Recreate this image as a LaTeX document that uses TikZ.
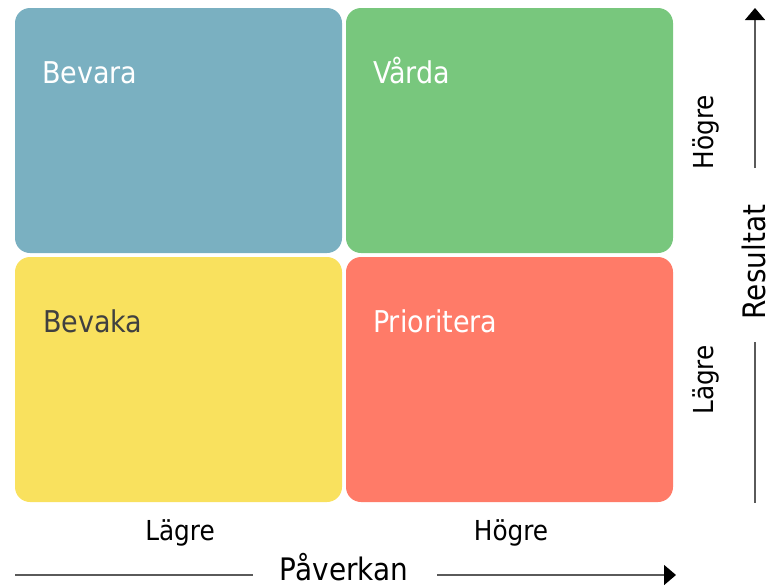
\documentclass[tikz,border=0pt]{standalone}
\usepackage{fontspec}
\setmainfont{DejaVu Sans Condensed}
\usetikzlibrary{arrows.meta}
\definecolor{qblue}{RGB}{122,176,193}
\definecolor{qgreen}{RGB}{120,199,125}
\definecolor{qyellow}{RGB}{249,225,94}
\definecolor{qred}{RGB}{255,123,104}
\definecolor{qdark}{RGB}{64,64,64}
\definecolor{axgray}{RGB}{90,90,90}
\begin{document}
\begin{tikzpicture}[x=1pt,y=-1pt,
  quad/.style={rounded corners=15pt, minimum width=327pt, minimum height=245pt, anchor=north west, inner sep=0pt, outer sep=0pt},
  qlabel/.style={anchor=base west, inner sep=0pt, font=\fontsize{30}{36}\selectfont},
  axlabel/.style={inner sep=0pt, anchor=base, font=\fontsize{27.5}{32}\selectfont},
  axtitle/.style={inner sep=0pt, anchor=base, font=\fontsize{31}{37}\selectfont},
  axline/.style={draw=axgray, line width=1.5pt},
  tipend/.style={-{Triangle[length=12pt,width=20pt,color=black]}}]
\useasboundingbox (0,0) rectangle (771,587);
% quadrants
\node[quad, fill=qblue]   (qa) at (15,8)    {};
\node[quad, fill=qgreen]  (qb) at (346,8)   {};
\node[quad, fill=qyellow] (qc) at (15,257)  {};
\node[quad, fill=qred]    (qd) at (346,257) {};
\node[qlabel, text=white] (la) at (42,83)   {Bevara};
\node[qlabel, text=white] (lb) at (373,83)  {Vårda};
\node[qlabel, text=qdark] (lc) at (43,332)  {Bevaka};
\node[qlabel, text=white] (ld) at (373,332) {Prioritera};
% horizontal axis
\node[axlabel] (xlow)  at (180,540) {Lägre};
\node[axlabel] (xhigh) at (511,540) {Högre};
\node[axtitle] (xtitle) at (344,580) {Påverkan};
\coordinate (xa) at (15,575);
\coordinate (xb) at (253,575);
\coordinate (xc) at (437,575);
\coordinate (xd) at (676,575);
\draw[axline] (xa) -- (xb);
\draw[axline, tipend] (xc) -- (xd);
% vertical axis
\node[axlabel, rotate=90] (yhigh) at (713,132) {Högre};
\node[axlabel, rotate=90] (ylow)  at (713,380) {Lägre};
\node[axtitle, rotate=90] (ytitle) at (765,262) {Resultat};
\coordinate (ya) at (755,168);
\coordinate (yb) at (755,8);
\coordinate (yc) at (755,342);
\coordinate (yd) at (755,503);
\draw[axline, tipend] (ya) -- (yb);
\draw[axline] (yc) -- (yd);
\end{tikzpicture}
\end{document}
